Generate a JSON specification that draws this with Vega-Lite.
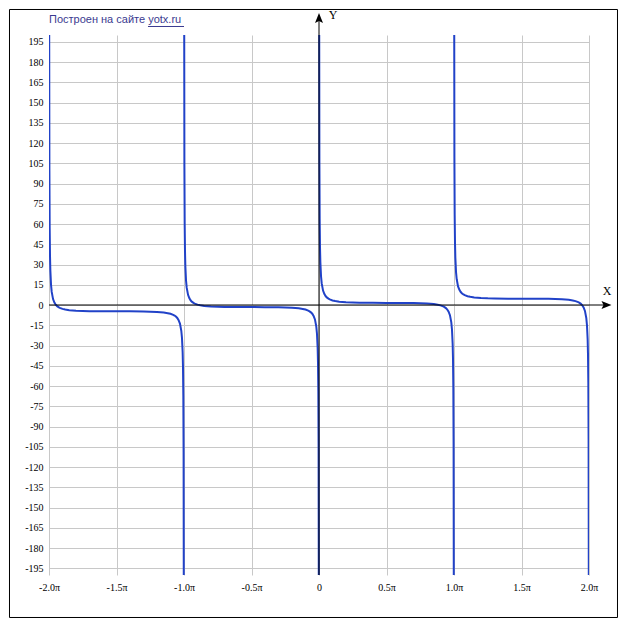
{
  "$schema": "https://vega.github.io/schema/vega-lite/v6.json",
  "width": 540,
  "height": 540,
  "autosize": {"type": "none"},
  "padding": {"left": 49, "top": 35, "right": 38, "bottom": 55},
  "background": "white",
  "config": {"view": {"stroke": null}},
  "datasets": {
    "curve": [
      {"branch": "a", "t": -1.9985, "y": 205.92}, {"branch": "a", "t": -1.997, "y": 99.83}, {"branch": "a", "t": -1.995, "y": 57.40}, {"branch": "a", "t": -1.9925, "y": 36.17}, {"branch": "a", "t": -1.99, "y": 25.57}, {"branch": "a", "t": -1.985, "y": 14.98}, {"branch": "a", "t": -1.98, "y": 9.67}, {"branch": "a", "t": -1.97, "y": 4.39}, {"branch": "a", "t": -1.96, "y": 1.77}, {"branch": "a", "t": -1.95, "y": 0.19}, {"branch": "a", "t": -1.94, "y": -0.85}, {"branch": "a", "t": -1.93, "y": -1.59}, {"branch": "a", "t": -1.92, "y": -2.14}, {"branch": "a", "t": -1.9, "y": -2.89}, {"branch": "a", "t": -1.88, "y": -3.37}, {"branch": "a", "t": -1.85, "y": -3.85}, {"branch": "a", "t": -1.8, "y": -4.27}, {"branch": "a", "t": -1.75, "y": -4.49}, {"branch": "a", "t": -1.7, "y": -4.61}, {"branch": "a", "t": -1.6, "y": -4.70}, {"branch": "a", "t": -1.5, "y": -4.71}, {"branch": "a", "t": -1.4, "y": -4.72}, {"branch": "a", "t": -1.3, "y": -4.81}, {"branch": "a", "t": -1.25, "y": -4.92}, {"branch": "a", "t": -1.2, "y": -5.15}, {"branch": "a", "t": -1.15, "y": -5.57}, {"branch": "a", "t": -1.12, "y": -6.05}, {"branch": "a", "t": -1.1, "y": -6.53}, {"branch": "a", "t": -1.08, "y": -7.28}, {"branch": "a", "t": -1.07, "y": -7.83}, {"branch": "a", "t": -1.06, "y": -8.57}, {"branch": "a", "t": -1.05, "y": -9.61}, {"branch": "a", "t": -1.04, "y": -11.18}, {"branch": "a", "t": -1.03, "y": -13.81}, {"branch": "a", "t": -1.02, "y": -19.09}, {"branch": "a", "t": -1.015, "y": -24.40}, {"branch": "a", "t": -1.01, "y": -34.99}, {"branch": "a", "t": -1.0075, "y": -45.59}, {"branch": "a", "t": -1.005, "y": -66.81}, {"branch": "a", "t": -1.003, "y": -109.25}, {"branch": "a", "t": -1.0015, "y": -215.34},
      {"branch": "b", "t": -0.9985, "y": 209.06}, {"branch": "b", "t": -0.997, "y": 102.97}, {"branch": "b", "t": -0.995, "y": 60.54}, {"branch": "b", "t": -0.9925, "y": 39.31}, {"branch": "b", "t": -0.99, "y": 28.71}, {"branch": "b", "t": -0.985, "y": 18.12}, {"branch": "b", "t": -0.98, "y": 12.81}, {"branch": "b", "t": -0.97, "y": 7.53}, {"branch": "b", "t": -0.96, "y": 4.91}, {"branch": "b", "t": -0.95, "y": 3.33}, {"branch": "b", "t": -0.94, "y": 2.29}, {"branch": "b", "t": -0.93, "y": 1.55}, {"branch": "b", "t": -0.92, "y": 1.00}, {"branch": "b", "t": -0.9, "y": 0.25}, {"branch": "b", "t": -0.88, "y": -0.23}, {"branch": "b", "t": -0.85, "y": -0.71}, {"branch": "b", "t": -0.8, "y": -1.13}, {"branch": "b", "t": -0.75, "y": -1.35}, {"branch": "b", "t": -0.7, "y": -1.47}, {"branch": "b", "t": -0.6, "y": -1.56}, {"branch": "b", "t": -0.5, "y": -1.57}, {"branch": "b", "t": -0.4, "y": -1.58}, {"branch": "b", "t": -0.3, "y": -1.67}, {"branch": "b", "t": -0.25, "y": -1.79}, {"branch": "b", "t": -0.2, "y": -2.01}, {"branch": "b", "t": -0.15, "y": -2.43}, {"branch": "b", "t": -0.12, "y": -2.91}, {"branch": "b", "t": -0.1, "y": -3.39}, {"branch": "b", "t": -0.08, "y": -4.14}, {"branch": "b", "t": -0.07, "y": -4.69}, {"branch": "b", "t": -0.06, "y": -5.43}, {"branch": "b", "t": -0.05, "y": -6.47}, {"branch": "b", "t": -0.04, "y": -8.05}, {"branch": "b", "t": -0.03, "y": -10.67}, {"branch": "b", "t": -0.02, "y": -15.95}, {"branch": "b", "t": -0.015, "y": -21.26}, {"branch": "b", "t": -0.01, "y": -31.85}, {"branch": "b", "t": -0.0075, "y": -42.45}, {"branch": "b", "t": -0.005, "y": -63.68}, {"branch": "b", "t": -0.003, "y": -106.11}, {"branch": "b", "t": -0.0015, "y": -212.2},
      {"branch": "c", "t": 0.0015, "y": 212.2}, {"branch": "c", "t": 0.003, "y": 106.11}, {"branch": "c", "t": 0.005, "y": 63.68}, {"branch": "c", "t": 0.0075, "y": 42.45}, {"branch": "c", "t": 0.01, "y": 31.85}, {"branch": "c", "t": 0.015, "y": 21.26}, {"branch": "c", "t": 0.02, "y": 15.95}, {"branch": "c", "t": 0.03, "y": 10.67}, {"branch": "c", "t": 0.04, "y": 8.05}, {"branch": "c", "t": 0.05, "y": 6.47}, {"branch": "c", "t": 0.06, "y": 5.43}, {"branch": "c", "t": 0.07, "y": 4.69}, {"branch": "c", "t": 0.08, "y": 4.14}, {"branch": "c", "t": 0.1, "y": 3.39}, {"branch": "c", "t": 0.12, "y": 2.91}, {"branch": "c", "t": 0.15, "y": 2.43}, {"branch": "c", "t": 0.2, "y": 2.01}, {"branch": "c", "t": 0.25, "y": 1.79}, {"branch": "c", "t": 0.3, "y": 1.67}, {"branch": "c", "t": 0.4, "y": 1.58}, {"branch": "c", "t": 0.5, "y": 1.57}, {"branch": "c", "t": 0.6, "y": 1.56}, {"branch": "c", "t": 0.7, "y": 1.47}, {"branch": "c", "t": 0.75, "y": 1.35}, {"branch": "c", "t": 0.8, "y": 1.13}, {"branch": "c", "t": 0.85, "y": 0.71}, {"branch": "c", "t": 0.88, "y": 0.23}, {"branch": "c", "t": 0.9, "y": -0.25}, {"branch": "c", "t": 0.92, "y": -1.00}, {"branch": "c", "t": 0.93, "y": -1.55}, {"branch": "c", "t": 0.94, "y": -2.29}, {"branch": "c", "t": 0.95, "y": -3.33}, {"branch": "c", "t": 0.96, "y": -4.91}, {"branch": "c", "t": 0.97, "y": -7.53}, {"branch": "c", "t": 0.98, "y": -12.81}, {"branch": "c", "t": 0.985, "y": -18.12}, {"branch": "c", "t": 0.99, "y": -28.71}, {"branch": "c", "t": 0.9925, "y": -39.31}, {"branch": "c", "t": 0.995, "y": -60.54}, {"branch": "c", "t": 0.997, "y": -102.97}, {"branch": "c", "t": 0.9985, "y": -209.06},
      {"branch": "d", "t": 1.0015, "y": 215.34}, {"branch": "d", "t": 1.003, "y": 109.25}, {"branch": "d", "t": 1.005, "y": 66.81}, {"branch": "d", "t": 1.0075, "y": 45.59}, {"branch": "d", "t": 1.01, "y": 34.99}, {"branch": "d", "t": 1.015, "y": 24.40}, {"branch": "d", "t": 1.02, "y": 19.09}, {"branch": "d", "t": 1.03, "y": 13.81}, {"branch": "d", "t": 1.04, "y": 11.18}, {"branch": "d", "t": 1.05, "y": 9.61}, {"branch": "d", "t": 1.06, "y": 8.57}, {"branch": "d", "t": 1.07, "y": 7.83}, {"branch": "d", "t": 1.08, "y": 7.28}, {"branch": "d", "t": 1.1, "y": 6.53}, {"branch": "d", "t": 1.12, "y": 6.05}, {"branch": "d", "t": 1.15, "y": 5.57}, {"branch": "d", "t": 1.2, "y": 5.15}, {"branch": "d", "t": 1.25, "y": 4.92}, {"branch": "d", "t": 1.3, "y": 4.81}, {"branch": "d", "t": 1.4, "y": 4.72}, {"branch": "d", "t": 1.5, "y": 4.71}, {"branch": "d", "t": 1.6, "y": 4.70}, {"branch": "d", "t": 1.7, "y": 4.61}, {"branch": "d", "t": 1.75, "y": 4.49}, {"branch": "d", "t": 1.8, "y": 4.27}, {"branch": "d", "t": 1.85, "y": 3.85}, {"branch": "d", "t": 1.88, "y": 3.37}, {"branch": "d", "t": 1.9, "y": 2.89}, {"branch": "d", "t": 1.92, "y": 2.14}, {"branch": "d", "t": 1.93, "y": 1.59}, {"branch": "d", "t": 1.94, "y": 0.85}, {"branch": "d", "t": 1.95, "y": -0.19}, {"branch": "d", "t": 1.96, "y": -1.77}, {"branch": "d", "t": 1.97, "y": -4.39}, {"branch": "d", "t": 1.98, "y": -9.67}, {"branch": "d", "t": 1.985, "y": -14.98}, {"branch": "d", "t": 1.99, "y": -25.57}, {"branch": "d", "t": 1.9925, "y": -36.17}, {"branch": "d", "t": 1.995, "y": -57.40}, {"branch": "d", "t": 1.997, "y": -99.83}, {"branch": "d", "t": 1.9985, "y": -205.92}
    ],
    "one": [{}]
  },
  "layer": [
    {
      "data": {"name": "curve"},
      "mark": {"type": "line", "clip": true, "color": "#2142c8", "strokeWidth": 2, "interpolate": "linear"},
      "encoding": {
        "x": {
          "field": "t", "type": "quantitative",
          "scale": {"domain": [-2, 2], "nice": false, "zero": false},
          "axis": {
            "title": null, "domain": false, "ticks": false, "grid": true,
            "gridColor": "#c8c8c8", "gridWidth": 1, "tickCount": 20,
            "values": [-2, -1.5, -1, -0.5, 0, 0.5, 1, 1.5, 2],
            "labelExpr": "datum.value === 0 ? '0' : (datum.value < 0 ? '-' : '') + format(abs(datum.value), '.1f') + 'π'",
            "labelFont": "Liberation Serif", "labelFontSize": 10, "labelColor": "#000000",
            "labelBaseline": "middle", "labelPadding": 12,
            "labelFlush": false, "labelOverlap": false
          }
        },
        "y": {
          "field": "y", "type": "quantitative",
          "scale": {"domain": [-200, 200], "nice": false, "zero": false},
          "axis": {
            "title": null, "domain": false, "ticks": false, "grid": true,
            "gridColor": "#c8c8c8", "gridWidth": 1, "tickCount": 60,
            "values": [-195, -180, -165, -150, -135, -120, -105, -90, -75, -60, -45, -30, -15, 0, 15, 30, 45, 60, 75, 90, 105, 120, 135, 150, 165, 180, 195],
            "labelExpr": "(datum.value < 0 ? '-' : '') + abs(datum.value)",
            "labelFont": "Liberation Serif", "labelFontSize": 10, "labelColor": "#000000",
            "labelAlign": "right", "labelBaseline": "middle", "labelPadding": 6,
            "labelFlush": false, "labelOverlap": false
          }
        },
        "detail": {"field": "branch", "type": "nominal"}
      }
    },
    {
      "data": {"name": "one"},
      "mark": {"type": "rule", "color": "#000000", "strokeWidth": 1, "clip": false},
      "encoding": {
        "x": {"datum": -2},
        "x2": {"datum": 2.1296},
        "y": {"datum": 0}
      }
    },
    {
      "data": {"name": "one"},
      "mark": {"type": "rule", "color": "#000000", "strokeWidth": 1, "clip": false},
      "encoding": {
        "x": {"datum": 0},
        "y": {"datum": -200},
        "y2": {"datum": 212.6}
      }
    },
    {
      "data": {"name": "one"},
      "mark": {"type": "point", "shape": "M1,0L-1,-0.8L-0.6,0L-1,0.8Z", "size": 100, "filled": true, "color": "#000000", "opacity": 1, "strokeWidth": 0, "clip": false},
      "encoding": {
        "x": {"datum": 2.1296},
        "y": {"datum": 0}
      }
    },
    {
      "data": {"name": "one"},
      "mark": {"type": "point", "shape": "M0,-1L-0.8,1L0,0.6L0.8,1Z", "size": 100, "filled": true, "color": "#000000", "opacity": 1, "strokeWidth": 0, "clip": false},
      "encoding": {
        "x": {"datum": 0},
        "y": {"datum": 212.6}
      }
    },
    {
      "data": {"name": "one"},
      "mark": {"type": "text", "text": "X", "font": "Liberation Serif", "fontSize": 12, "color": "#000000", "align": "center", "baseline": "middle", "clip": false},
      "encoding": {
        "x": {"datum": 2.133},
        "y": {"datum": 10.37}
      }
    },
    {
      "data": {"name": "one"},
      "mark": {"type": "text", "text": "Y", "font": "Liberation Serif", "fontSize": 12, "color": "#000000", "align": "center", "baseline": "middle", "clip": false},
      "encoding": {
        "x": {"datum": 0.1037},
        "y": {"datum": 214.8}
      }
    },
    {
      "data": {"name": "one"},
      "mark": {"type": "text", "text": "Построен на сайте yotx.ru", "font": "Liberation Sans", "fontSize": 11, "color": "#3a3a90", "align": "left", "baseline": "middle", "clip": false},
      "encoding": {
        "x": {"datum": -2},
        "y": {"datum": 211.1}
      }
    },
    {
      "data": {"name": "one"},
      "mark": {"type": "rule", "color": "#3a3a90", "strokeWidth": 1, "clip": false},
      "encoding": {
        "x": {"datum": -1.2667},
        "x2": {"datum": -1.0},
        "y": {"datum": 206.3}
      }
    },
    {
      "data": {"name": "one"},
      "mark": {"type": "rect", "fill": null, "fillOpacity": 0, "stroke": "#000000", "strokeWidth": 1, "clip": false},
      "encoding": {
        "x": {"datum": -2.2926},
        "x2": {"datum": 2.2111},
        "y": {"datum": 218.89},
        "y2": {"datum": -231.48}
      }
    }
  ]
}
